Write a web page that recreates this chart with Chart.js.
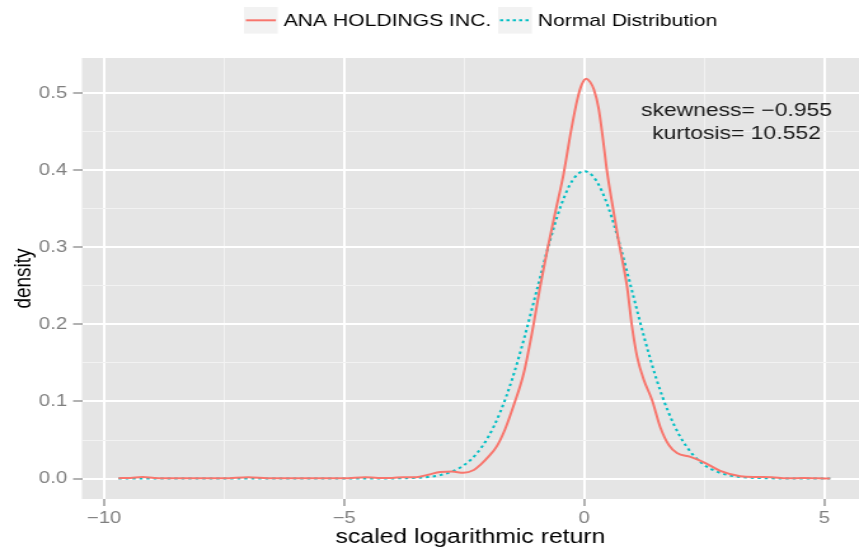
<!DOCTYPE html>
<html>
<head>
<meta charset="utf-8">
<script src="https://cdn.jsdelivr.net/npm/chart.js@4.4.1/dist/chart.umd.min.js"></script>
<style>
  html, body { margin: 0; padding: 0; background: #fff; overflow: hidden; }
  /* the plot is laid out on a narrower canvas and widened to the page width */
  #wrap { width: 676px; height: 551px; transform: scaleX(1.2707); transform-origin: 0 0; }
</style>
</head>
<body>
<div id="wrap"><canvas id="density" width="676" height="551"></canvas></div>
<script>
const SERIES_NAMES = ['ANA HOLDINGS INC.', 'Normal Distribution']
const SERIES_COLORS = ['#F8766D', '#00BFC4']

// kernel density of the scaled log returns
const ANA_X = [-9.7, -9.45, -9.2, -8.95, -8.5, -7.5, -7.0, -6.6, -6.0, -5.0, -4.56, -4.3, -4.0, -3.77, -3.5,
  -3.25, -3.0, -2.75, -2.52, -2.3, -2.17, -2.0, -1.82, -1.65, -1.47, -1.26, -1.06, -0.92, -0.76, -0.6, -0.43,
  -0.28, -0.15, -0.05, 0.04, 0.12, 0.2, 0.3, 0.4, 0.47, 0.6, 0.71, 0.89, 0.99, 1.10, 1.24, 1.41, 1.58,
  1.76, 1.93, 2.21, 2.49, 2.83, 3.25, 3.6, 3.9, 4.22, 4.57, 4.85, 5.12]
const ANA_DENSITY = [0.0005, 0.0008, 0.002, 0.0008, 0.0003, 0.0003, 0.0018, 0.0005, 0.0002, 0.0002, 0.0018, 0.0006, 0.0008, 0.0018, 0.0018,
  0.005, 0.0085, 0.009, 0.0075, 0.011, 0.0175, 0.028, 0.042, 0.064, 0.095, 0.137, 0.199, 0.249, 0.30, 0.347, 0.396,
  0.45, 0.491, 0.512, 0.519, 0.515, 0.505, 0.48, 0.435, 0.40, 0.35, 0.31, 0.249, 0.199, 0.158, 0.128, 0.102, 0.067,
  0.0435, 0.033, 0.028, 0.021, 0.010, 0.003, 0.002, 0.0017, 0.0003, 0.0006, 0.0003, 0]

// reference N(0,1) curve
const NORMAL_X = [-9.7, -6.0, -4.5, -4.0, -3.75, -3.5, -3.25, -3.0, -2.75, -2.5, -2.25, -2.0, -1.75, -1.5, -1.25,
  -1.0, -0.75, -0.5, -0.25, 0, 0.25, 0.5, 0.75, 1.0, 1.25, 1.5, 1.75, 2.0, 2.25, 2.5, 2.75, 3.0, 3.25,
  3.5, 3.75, 4.0, 4.5, 5.12]
const NORMAL_DENSITY = [0, 0, 0, 0.0001, 0.0004, 0.0009, 0.002, 0.0044, 0.0091, 0.0175, 0.0317, 0.054, 0.0863, 0.1295, 0.1826,
  0.242, 0.3011, 0.3521, 0.3867, 0.3989, 0.3867, 0.3521, 0.3011, 0.242, 0.1826, 0.1295, 0.0863, 0.054, 0.0317, 0.0175, 0.0091, 0.0044, 0.002,
  0.0009, 0.0004, 0.0001, 0, 0]

const X_MAJOR = [-10, -5, 0, 5]
const X_MINOR = [-7.5, -2.5, 2.5]
const Y_MAJOR = [0, 0.1, 0.2, 0.3, 0.4, 0.5]
const Y_MINOR = [0.05, 0.15, 0.25, 0.35, 0.45]
const STATS_TEXT = ['skewness= \u22120.955', 'kurtosis= 10.552']

const FONT = "'Liberation Sans', Arial, sans-serif"
Chart.defaults.font.family = FONT

const isMajor = (list, v) => list.some(m => Math.abs(m - v) < 1e-9)
const fmtX = v => (v < 0 ? '\u2212' + Math.abs(v) : String(v))

function toPoints(xs, ys) {
    return xs.map((x, i) => ({ x: x, y: ys[i] }))
}

const panelBackground = {
    id: 'panelBackground',
    beforeDraw(chart) {
        const { ctx, chartArea: a } = chart
        ctx.save()
        ctx.fillStyle = '#E5E5E5'
        ctx.fillRect(a.left, a.top, a.right - a.left, a.bottom - a.top)
        ctx.restore()
    }
}

const statsLabel = {
    id: 'statsLabel',
    afterDatasetsDraw(chart) {
        const { ctx, scales } = chart
        const x = scales.x.getPixelForValue(3.17)
        ctx.save()
        ctx.font = '18px ' + FONT
        ctx.fillStyle = '#1a1a1a'
        ctx.textAlign = 'center'
        ctx.textBaseline = 'alphabetic'
        ctx.fillText(STATS_TEXT[0], x, scales.y.getPixelForValue(0.471))
        ctx.fillText(STATS_TEXT[1], x, scales.y.getPixelForValue(0.441))
        ctx.restore()
    }
}

const keyLegend = {
    id: 'keyLegend',
    afterDraw(chart) {
        const ctx = chart.ctx
        const box = 26.6
        let x = 192
        const top = 7
        ctx.save()
        ctx.font = '16.6px ' + FONT
        ctx.textBaseline = 'middle'
        SERIES_NAMES.forEach((name, i) => {
            ctx.fillStyle = '#F2F2F2'
            ctx.fillRect(x, top, box, box)
            ctx.strokeStyle = SERIES_COLORS[i]
            ctx.lineWidth = 2
            ctx.setLineDash(i === 1 ? [2.5, 2.5] : [])
            ctx.beginPath()
            ctx.moveTo(x + 1.5, top + box / 2)
            ctx.lineTo(x + box - 1.5, top + box / 2)
            ctx.stroke()
            ctx.setLineDash([])
            ctx.fillStyle = '#000'
            ctx.fillText(name, x + box + 4.7, top + box / 2 + 1)
            x += box + 4.7 + ctx.measureText(name).width + 5.5
        })
        ctx.restore()
    }
}

function gridOptions(major) {
    return {
        color: c => isMajor(major, c.tick.value) ? '#FFFFFF' : '#F2F2F2',
        lineWidth: c => isMajor(major, c.tick.value) ? 2 : 1,
        tickColor: c => isMajor(major, c.tick.value) ? '#7F7F7F' : 'rgba(0,0,0,0)',
        tickWidth: 1.2,
        tickLength: 7,
        drawTicks: true
    }
}

new Chart(document.getElementById('density'), {
    type: 'line',
    data: {
        datasets: [{
            label: SERIES_NAMES[0],
            data: toPoints(ANA_X, ANA_DENSITY),
            borderColor: SERIES_COLORS[0],
            borderWidth: 2,
            pointRadius: 0,
            cubicInterpolationMode: 'monotone',
            fill: false
        }, {
            label: SERIES_NAMES[1],
            data: toPoints(NORMAL_X, NORMAL_DENSITY),
            borderColor: SERIES_COLORS[1],
            borderWidth: 2,
            borderDash: [2.5, 3],
            pointRadius: 0,
            cubicInterpolationMode: 'monotone',
            fill: false
        }]
    },
    options: {
        responsive: false,
        animation: false,
        events: [],
        layout: { padding: { top: 58, left: 0, right: 0, bottom: 0 } },
        plugins: {
            legend: { display: false },
            tooltip: { enabled: false }
        },
        scales: {
            x: {
                type: 'linear',
                min: -10.46,
                max: 5.72,
                afterBuildTicks: s => { s.ticks = X_MAJOR.concat(X_MINOR).sort((a, b) => a - b).map(v => ({ value: v })) },
                afterFit: s => { s.height = 52 },
                grid: gridOptions(X_MAJOR),
                border: { display: false },
                ticks: {
                    autoSkip: false,
                    maxRotation: 0,
                    padding: 3,
                    color: '#7F7F7F',
                    font: { size: 16 },
                    callback: v => isMajor(X_MAJOR, v) ? fmtX(v) : ''
                },
                title: {
                    display: true,
                    text: 'scaled logarithmic return',
                    color: '#000',
                    font: { size: 19.5 },
                    padding: { top: 0, bottom: 2 }
                }
            },
            y: {
                type: 'linear',
                min: -0.0266,
                max: 0.546,
                afterBuildTicks: s => { s.ticks = Y_MAJOR.concat(Y_MINOR).sort((a, b) => a - b).map(v => ({ value: v })) },
                afterFit: s => { s.width = 64.5 },
                grid: gridOptions(Y_MAJOR),
                border: { display: false },
                ticks: {
                    autoSkip: false,
                    padding: 4.7,
                    color: '#7F7F7F',
                    font: { size: 16 },
                    callback: v => isMajor(Y_MAJOR, v) ? v.toFixed(1) : ''
                },
                title: {
                    display: true,
                    text: 'density',
                    color: '#000',
                    font: { size: 19 },
                    padding: { top: 7, bottom: 0 }
                }
            }
        }
    },
    plugins: [panelBackground, statsLabel, keyLegend]
})
</script>
</body>
</html>
